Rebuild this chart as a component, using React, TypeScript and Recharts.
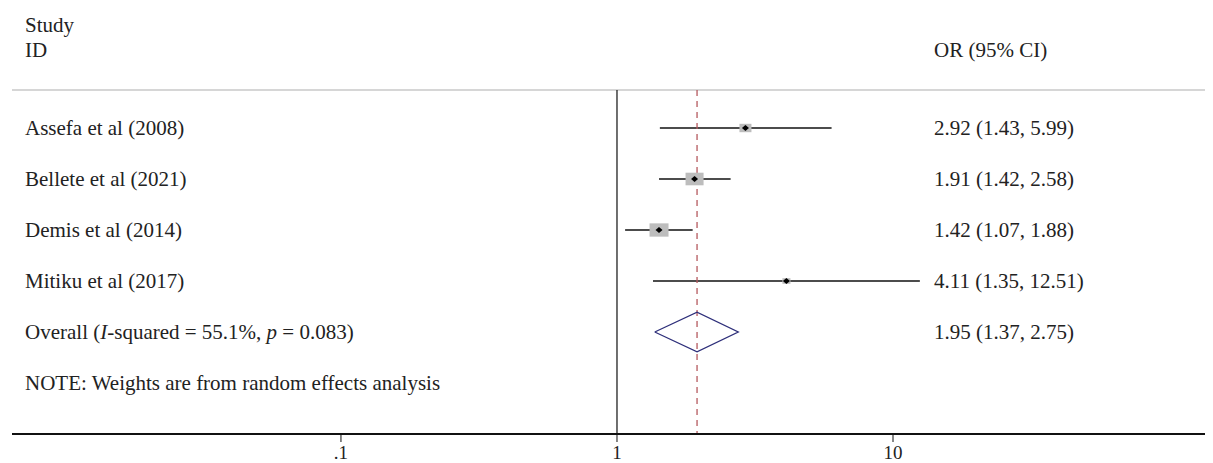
import React from "react";
import { ComposedChart, XAxis, YAxis, Scatter, ReferenceLine } from "recharts";

const studyNames = ["Assefa et al (2008)", "Bellete et al (2021)", "Demis et al (2014)", "Mitiku et al (2017)"];
const orValues = [2.92, 1.91, 1.42, 4.11];
const ciLow = [1.43, 1.42, 1.07, 1.35];
const ciHigh = [5.99, 2.58, 1.88, 12.51];
const weights = [16.1, 36.3, 40.4, 7.2];
const overall = { or: 1.95, lo: 1.37, hi: 2.75, i2: "55.1%", p: "0.083" };
const xTicks = [0.1, 1, 10];
const xTickLabels = [".1", "1", "10"];
const noteText = "NOTE: Weights are from random effects analysis";

const FONT = "'Liberation Serif', 'Times New Roman', serif";
const TEXT = "#222";
const FS = 21;
const LEFT_X = 17;
const RIGHT_X = 926;

const studyRows = studyNames.map((n, i) => ({
  name: n,
  x: orValues[i],
  y: i + 1,
  lo: ciLow[i],
  hi: ciHigh[i],
  w: weights[i],
  ci: `${orValues[i].toFixed(2)} (${ciLow[i].toFixed(2)}, ${ciHigh[i].toFixed(2)})`,
}));
const overallRow = studyNames.length + 1;
const noteRow = studyNames.length + 2;
const sepRow = 0.255;
const axisRow = 7;

const labelRows = [
  { x: 1, y: -1.02, left: "Study", right: "" },
  { x: 1, y: -0.52, left: "ID", right: "OR (95% CI)" },
  ...studyRows.map((r) => ({ x: 1, y: r.y, left: r.name, right: r.ci })),
  { x: 1, y: overallRow, left: "__overall__", right: `${overall.or.toFixed(2)} (${overall.lo.toFixed(2)}, ${overall.hi.toFixed(2)})` },
  { x: 1, y: noteRow, left: noteText, right: "" },
];

const diamondHalf = 0.39;
const diamondPts = [
  { x: overall.lo, y: overallRow },
  { x: overall.or, y: overallRow - diamondHalf },
  { x: overall.hi, y: overallRow },
  { x: overall.or, y: overallRow + diamondHalf },
  { x: overall.lo, y: overallRow },
];

const LabelShape = (props: any) => {
  const { cy, payload } = props;
  const base = cy + 7;
  return (
    <g>
      {payload.left === "__overall__" ? (
        <text x={LEFT_X} y={base} fontSize={FS} fontFamily={FONT} fill={TEXT}>
          <tspan>Overall (</tspan>
          <tspan fontStyle="italic">I</tspan>
          <tspan>{`-squared = ${overall.i2}, `}</tspan>
          <tspan fontStyle="italic">p</tspan>
          <tspan>{` = ${overall.p})`}</tspan>
        </text>
      ) : (
        <text x={LEFT_X} y={base} fontSize={FS} fontFamily={FONT} fill={TEXT}>
          {payload.left}
        </text>
      )}
      {payload.right ? (
        <text x={RIGHT_X} y={base} fontSize={FS} fontFamily={FONT} fill={TEXT}>
          {payload.right}
        </text>
      ) : null}
    </g>
  );
};

const BoxShape = (props: any) => {
  const { cx, cy, payload } = props;
  const bw = 2.99 * Math.sqrt(payload.w);
  const bh = bw * 0.7;
  return (
    <g>
      <rect x={cx - bw / 2} y={cy - bh / 2} width={bw} height={bh} fill="#bdbdbd" />
      <polygon
        points={`${cx - 3.5},${cy} ${cx},${cy - 3} ${cx + 3.5},${cy} ${cx},${cy + 3}`}
        fill="#000"
      />
    </g>
  );
};

const Empty = () => <g />;

export default function App() {
  return (
    <div style={{ width: 1205, height: 455 }}>
      <ComposedChart
        width={1205}
        height={455}
        margin={{ top: 2.7, right: 0, left: 4, bottom: 0 }}
      >
        <XAxis
          type="number"
          dataKey="x"
          scale="log"
          domain={[0.00643, 144.3]}
          ticks={xTicks}
          tickFormatter={(v: number) => xTickLabels[xTicks.indexOf(v)] ?? String(v)}
          height={29}
          tickSize={8}
          tickMargin={4}
          axisLine={{ stroke: "#111", strokeWidth: 2 }}
          tickLine={{ stroke: "#111", strokeWidth: 1 }}
          tick={{ fontSize: 19, fontFamily: FONT, fill: TEXT }}
          interval={0}
        />
        <YAxis type="number" dataKey="y" domain={[-1.3, axisRow]} reversed hide width={0} />
        <ReferenceLine
          segment={[{ x: 0.00643, y: sepRow }, { x: 144.3, y: sepRow }]}
          stroke="#c8c8c8"
          strokeWidth={1.5}
        />
        <ReferenceLine
          segment={[{ x: 1, y: sepRow }, { x: 1, y: axisRow }]}
          stroke="#222"
          strokeWidth={1.3}
        />
        <Scatter data={studyRows} shape={BoxShape} isAnimationActive={false} />
        {studyRows.map((r) => (
          <ReferenceLine
            key={r.name}
            segment={[{ x: r.lo, y: r.y }, { x: r.hi, y: r.y }]}
            stroke="#111"
            strokeWidth={1.4}
          />
        ))}
        <ReferenceLine
          segment={[{ x: overall.or, y: sepRow }, { x: overall.or, y: axisRow }]}
          stroke="#b5595f"
          strokeWidth={1.3}
          strokeDasharray="6 5"
        />
        <Scatter
          data={diamondPts}
          line={{ stroke: "#2e2f7a", strokeWidth: 1.3 }}
          shape={Empty}
          isAnimationActive={false}
        />
        <Scatter data={labelRows} shape={LabelShape} isAnimationActive={false} />
      </ComposedChart>
    </div>
  );
}
